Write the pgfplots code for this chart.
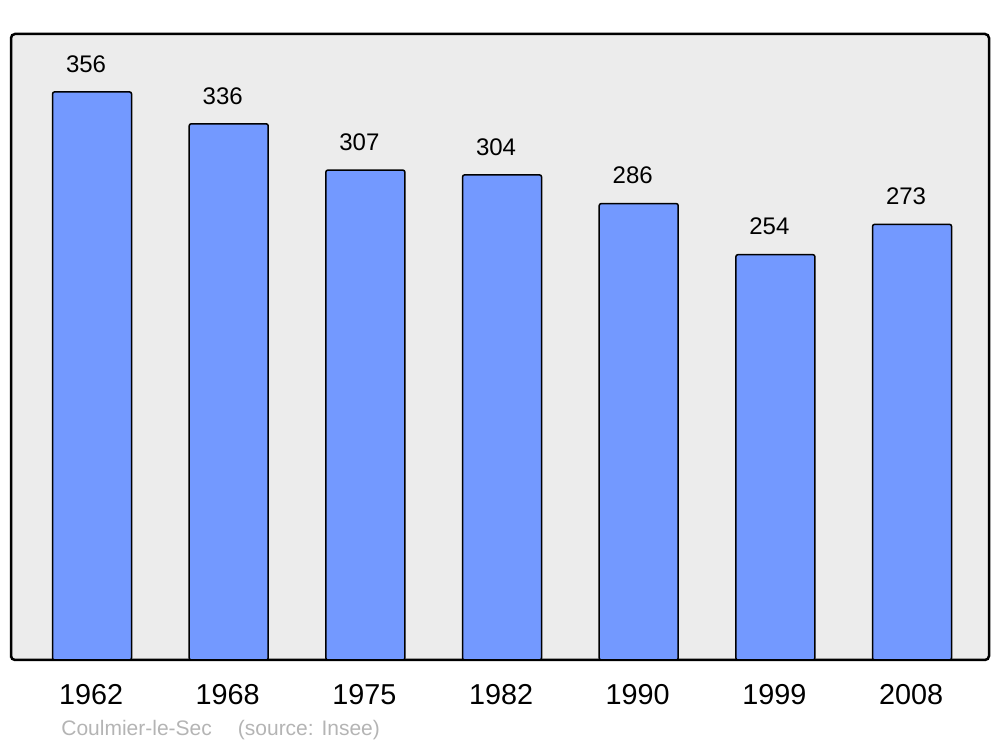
\documentclass[border=0pt]{standalone}
\usepackage{pgfplots}
\pgfplotsset{compat=1.18}
\usepackage{fontspec}
\setmainfont{Liberation Sans}
\definecolor{barblue}{RGB}{115,153,255}
\definecolor{bgray}{RGB}{236,236,236}
\definecolor{srcgray}{RGB}{180,180,180}
\begin{document}
\begin{tikzpicture}
\useasboundingbox (0,0) rectangle (500pt,373.5pt);
\begin{axis}[
  at={(5.5pt,43.5pt)}, anchor=south west,
  scale only axis, width=489pt, height=313pt,
  xmin=-0.593, xmax=6.563, ymin=0, ymax=392.3,
  axis background/.style={fill=bgray, rounded corners=2pt},
  axis line style={line width=1.25pt, rounded corners=2pt},
  xtick={0,1,2,3,4,5,6},
  xticklabels={1962,1968,1975,1982,1990,1999,2008},
  ytick=\empty,
  major tick length=0pt,
  /pgf/number format/assume math mode=true,
  xticklabel style={font=\fontsize{14.4pt}{16pt}\selectfont, anchor=center, yshift=-17.5pt, xshift=-0.5pt},
  ybar, bar width=0.578,
  nodes near coords,
  nodes near coords style={font=\fontsize{12pt}{14pt}\selectfont, anchor=center, yshift=14pt, xshift=-3pt},
  clip=false,
]
\addplot[fill=barblue, draw=black, line width=0.75pt, rounded corners=1pt] coordinates {
(0,356) (1,336) (2,307) (3,304) (4,286) (5,254) (6,273)};
\end{axis}
\node[anchor=west, text=srcgray, font=\fontsize{10.5pt}{12pt}\selectfont, inner sep=0pt] at (30.5pt,8.5pt) {Coulmier-le-Sec\hspace{13pt}(source: Insee)};
\end{tikzpicture}
\end{document}
